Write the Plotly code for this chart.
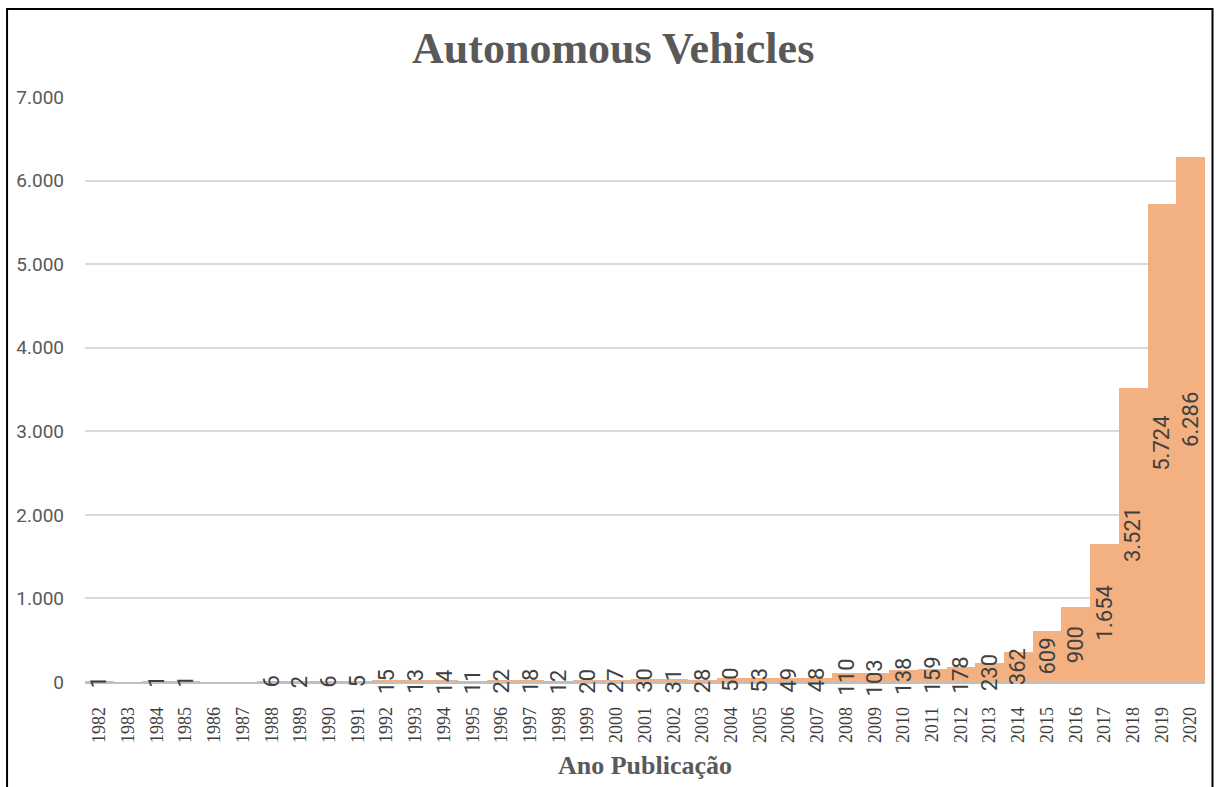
import plotly.graph_objects as go

# Publications per year on autonomous vehicles
years = [str(y) for y in range(1982, 2021)]
counts = [1, 0, 1, 1, 0, 0, 6, 2, 6, 5, 15, 13, 14, 11, 22, 18, 12, 20, 27, 30,
          31, 28, 50, 53, 49, 48, 110, 103, 138, 159, 178, 230, 362, 609, 900,
          1654, 3521, 5724, 6286]
y_ticks = [0, 1000, 2000, 3000, 4000, 5000, 6000, 7000]

BAR = "#F3B081"
GREY = "#595959"
DARK = "#404040"


def fmt(v):
    return f"{v:,}".replace(",", ".")


fig = go.Figure()
fig.add_trace(go.Bar(x=years, y=counts, marker=dict(color=BAR, line=dict(width=0)),
                     hoverinfo="x+y"))

# value labels, rotated, centred on each bar (x given as category index)
for i, v in enumerate(counts):
    if v <= 0:
        continue
    fig.add_annotation(x=i, y=v / 2, text=fmt(v), textangle=-90, showarrow=False,
                       xanchor="center", yanchor="middle",
                       font=dict(family="Roboto, sans-serif", size=22, color=DARK))

fig.update_layout(
    width=1219, height=787,
    margin=dict(l=85, r=14, t=97, b=105),
    paper_bgcolor="white", plot_bgcolor="white",
    separators=",.",
    bargap=0,
    showlegend=False,
    title=dict(text="<b>Autonomous Vehicles</b>", x=0.503, xanchor="center",
               y=0.94, yanchor="middle",
               font=dict(family="Liberation Serif, Times New Roman, serif", size=44, color=GREY)),
    xaxis=dict(type="category", tickangle=-90, showgrid=False,
               range=[-0.5, len(years) - 0.5],
               showline=True, linecolor="#BFBFBF", linewidth=1.5,
               ticks="outside", ticklen=16, tickcolor="rgba(0,0,0,0)",
               tickfont=dict(family="Liberation Serif, serif", size=18, color=DARK),
               title=dict(text="<b>Ano Publicação</b>", standoff=14,
                          font=dict(family="Liberation Serif, serif", size=26, color=GREY))),
    yaxis=dict(range=[0, 7000], tickvals=y_ticks, tickformat=",d",
               showgrid=True, gridcolor="#D9D9D9", gridwidth=1.5, zeroline=False,
               showline=False, ticklabelstandoff=20,
               tickfont=dict(family="Roboto, sans-serif", size=19, color=GREY)),
)

# outer frame around the chart area
fig.add_shape(type="rect", xref="paper", yref="paper", x0=-0.0696, x1=1.0067,
              y0=-0.3, y1=1.1504, line=dict(color="black", width=2), layer="above")

fig.write_html("out.html")
